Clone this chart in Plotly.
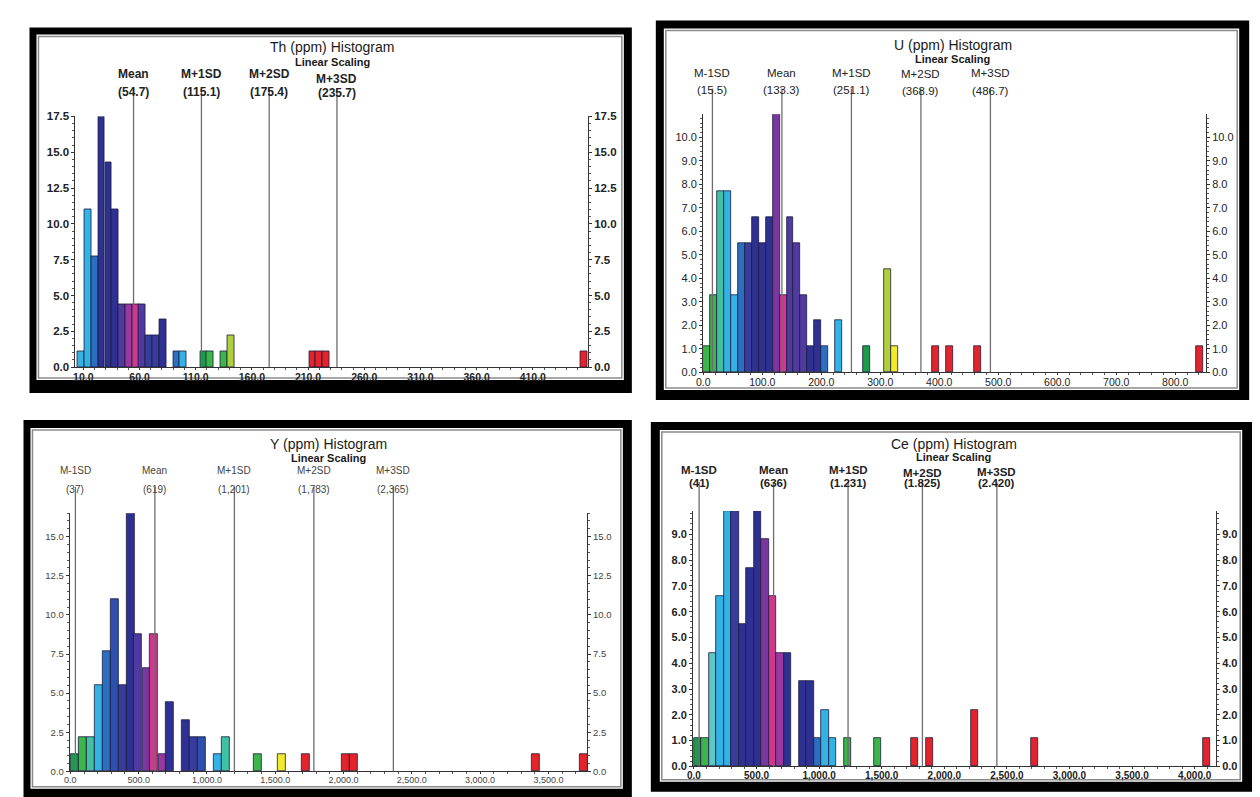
import plotly.graph_objects as go

W, H = 1260, 797

# ---------------- data ----------------
th_bins = [8.1, 14.1, 20.2, 26.2, 32.3, 38.3, 44.4, 50.4, 56.5, 62.5, 68.6, 74.6, 80.7,
           92.8, 98.8, 117.0, 123.0, 135.1, 141.2, 213.8, 219.9, 225.9, 455.8]
th_pct = [1.1, 11.0, 7.7, 17.5, 14.3, 11.0, 4.4, 4.4, 4.4, 4.4, 2.2, 2.2, 3.3,
          1.1, 1.1, 1.1, 1.1, 1.1, 2.2, 1.1, 1.1, 1.1, 1.1]

u_bins = [5.9, 17.7, 29.4, 41.2, 53.0, 64.7, 76.5, 88.3, 100.0, 111.8, 123.6, 135.4, 147.1,
          158.9, 170.7, 182.4, 194.2, 206.0, 229.5, 276.6, 311.9, 323.7, 394.3, 417.9, 465.0, 841.7]
u_pct = [1.1, 3.3, 7.7, 7.7, 3.3, 5.5, 5.5, 6.6, 5.5, 6.6, 11.0, 3.3, 6.6,
         5.5, 3.3, 1.1, 2.2, 1.1, 2.2, 1.1, 4.4, 1.1, 1.1, 1.1, 1.1, 1.1]

y_bins = [29, 88, 146, 205, 263, 322, 380, 439, 497, 556, 614, 673, 731,
          848, 907, 965, 1082, 1141, 1375, 1550, 1726, 2018, 2077, 3405, 3760]
y_pct = [1.1, 2.2, 2.2, 5.5, 7.7, 11.0, 5.5, 16.5, 8.8, 6.6, 8.8, 1.1, 4.4,
         3.3, 2.2, 2.2, 1.1, 2.2, 1.1, 1.1, 1.1, 1.1, 1.1, 1.1, 1.1]

ce_bins = [30, 90, 150, 209, 269, 329, 389, 449, 508, 568, 628, 688, 747,
           867, 927, 987, 1046, 1106, 1226, 1465, 1764, 1883, 2243, 2721, 4096]
ce_pct = [1.1, 1.1, 4.4, 6.6, 9.9, 9.9, 5.5, 7.7, 9.9, 8.8, 6.6, 4.4, 4.4,
          3.3, 3.3, 1.1, 2.2, 1.1, 1.1, 1.1, 1.1, 1.1, 2.2, 1.1, 1.1]

th_stat_names = ["Mean", "M+1SD", "M+2SD", "M+3SD"]
th_stat_vals = [54.7, 115.1, 175.4, 235.7]
th_stat_text = ["(54.7)", "(115.1)", "(175.4)", "(235.7)"]

u_stat_names = ["M-1SD", "Mean", "M+1SD", "M+2SD", "M+3SD"]
u_stat_vals = [15.5, 133.3, 251.1, 368.9, 486.7]
u_stat_text = ["(15.5)", "(133.3)", "(251.1)", "(368.9)", "(486.7)"]

y_stat_names = ["M-1SD", "Mean", "M+1SD", "M+2SD", "M+3SD"]
y_stat_vals = [37, 619, 1201, 1783, 2365]
y_stat_text = ["(37)", "(619)", "(1,201)", "(1,783)", "(2,365)"]

ce_stat_names = ["M-1SD", "Mean", "M+1SD", "M+2SD", "M+3SD"]
ce_stat_vals = [41, 636, 1231, 1825, 2420]
ce_stat_text = ["(41)", "(636)", "(1.231)", "(1.825)", "(2.420)"]

# ---------------- colours ----------------
G1 = "#1a9c4a"; G2 = "#3cb54a"; TEAL = "#3fc1a2"; LTEAL = "#5cc7c4"
LB = "#33b2e6"; MB = "#2a6fc2"; MB2 = "#2d4fae"; DB = "#2e3192"; DB2 = "#383d9d"
PB = "#50399f"; PU = "#7a379f"; PU2 = "#9a389f"; MG = "#d8338e"
YG = "#afd03a"; YE = "#f3ea2c"; RD = "#e5232a"

th_colors = [LB, LB, MB, DB, DB, DB, PB, PU2, MG, PB, DB2, DB2, DB,
             MB, LB, G1, G2, G2, YG, RD, RD, RD, RD]
u_colors = [G2, G2, TEAL, LB, LB, MB, DB2, DB, DB, DB, PU, MG, PB,
            PB, PB, DB, DB, MB, LB, G1, YG, YE, RD, RD, RD, RD]
y_colors = [G1, G2, TEAL, LB, MB, MB2, DB2, DB, PB, PU, MG, PU2, DB,
            DB, DB2, MB2, LB, TEAL, G2, YE, RD, RD, RD, RD, RD]
ce_colors = [G1, G2, LTEAL, LB, LB, DB2, DB, DB, DB, PU, MG, PU2, DB,
             DB, DB, MB, LB, LB, G2, G2, RD, RD, RD, RD, RD]

FONT = "Liberation Sans, Arial, sans-serif"

# page placement compensation (screen = OFF + SCALE * design)
OFFX, SCX = 14.5, 0.9955
OFFY, SCY = 13.5, 0.986


def PX(p):
    return ((p - OFFX) / SCX) / W


def PY(p):
    return 1 - ((p - OFFY) / SCY) / H


panels = [
    dict(bins=th_bins, pct=th_pct, colors=th_colors, bw=6.05,
         names=th_stat_names, vals=th_stat_vals, texts=th_stat_text,
         xdom=(75, 588), ydom=(116, 367), xr=(2.98, 459.0), yr=(0, 17.5),
         xt0=10, xdt=50, xfmt=".1f", xminor=10, ydt=2.5, yminor=0.5,
         name_y=[74, 74, 74, 79], val_y=[92, 92, 92, 93], line_top=88,
         title="Th (ppm) Histogram", tx=332, ty=47, lsy=62,
         lab=dict(size=12, weight=700), ytick=dict(size=11.5, weight=700),
         xtick=dict(size=10.5, weight=700), tcol="#222"),
    dict(bins=u_bins, pct=u_pct, colors=u_colors, bw=11.77,
         names=u_stat_names, vals=u_stat_vals, texts=u_stat_text,
         xdom=(703.3, 1206.7), ydom=(113.8, 372.3), xr=(-0.34, 852.0), yr=(0, 10.98),
         xt0=0, xdt=100, xfmt=".1f", xminor=20, ydt=1, yminor=0.2,
         name_y=[73, 73, 73, 74, 73], val_y=[90, 90, 90, 91, 91], line_top=88,
         title="U (ppm) Histogram", tx=953, ty=45, lsy=59,
         lab=dict(size=11.5, weight=400), ytick=dict(size=11, weight=400),
         xtick=dict(size=10.5, weight=400), tcol="#222"),
    dict(bins=y_bins, pct=y_pct, colors=y_colors, bw=58.5,
         names=y_stat_names, vals=y_stat_vals, texts=y_stat_text,
         xdom=(69.3, 587.3), ydom=(513.2, 771.7), xr=(-4.4, 3784.0), yr=(0, 16.5),
         xt0=0, xdt=500, xfmt=",.1f", xminor=100, ydt=2.5, yminor=0.5,
         name_y=[470] * 5, val_y=[490] * 5, line_top=487,
         title="Y (ppm) Histogram", tx=328, ty=444, lsy=458,
         lab=dict(size=10, weight=400), ytick=dict(size=9.5, weight=400),
         xtick=dict(size=9, weight=400), tcol="#444"),
    dict(bins=ce_bins, pct=ce_pct, colors=ce_colors, bw=59.8,
         names=ce_stat_names, vals=ce_stat_vals, texts=ce_stat_text,
         xdom=(693.3, 1216.7), ydom=(511.1, 766.7), xr=(-7.2, 4170.0), yr=(0, 9.9),
         xt0=0, xdt=500, xfmt=",.1f", xminor=100, ydt=1, yminor=0.2,
         name_y=[470, 470, 470, 473, 472], val_y=[483] * 5, line_top=482,
         title="Ce (ppm) Histogram", tx=954, ty=444, lsy=457,
         lab=dict(size=11.5, weight=700), ytick=dict(size=11, weight=700),
         xtick=dict(size=10, weight=700), tcol="#222"),
]

# frames: outer black, inner white, gray line (target pixel boxes)
frames = [
    ((29, 27, 632, 393), (36, 34, 624, 380), (38, 36, 622, 378)),
    ((656, 20, 1250, 400), (664, 28, 1240, 390), (666, 30, 1238, 388)),
    ((23, 420, 632, 805), (30, 428, 623, 789), (32, 430, 621, 787)),
    ((651, 422, 1254, 792), (660, 430, 1243, 782), (662, 432, 1241, 780)),
]

fig = go.Figure()
shapes = []
annotations = []

for (o, i, g) in frames:
    shapes.append(dict(type="rect", xref="paper", yref="paper", x0=PX(o[0]), x1=PX(o[2]),
                       y0=PY(o[3]), y1=PY(o[1]), fillcolor="#000", line=dict(width=0), layer="below"))
    shapes.append(dict(type="rect", xref="paper", yref="paper", x0=PX(i[0]), x1=PX(i[2]),
                       y0=PY(i[3]), y1=PY(i[1]), fillcolor="#fff", line=dict(width=0), layer="below"))
    shapes.append(dict(type="rect", xref="paper", yref="paper", x0=PX(g[0]), x1=PX(g[2]),
                       y0=PY(g[3]), y1=PY(g[1]), line=dict(color="#8a8a8a", width=1.5), layer="below"))

layout_axes = {}
for n, p in enumerate(panels, start=1):
    xa = "x" if n == 1 else f"x{n}"
    ya = "y" if n == 1 else f"y{n}"
    yr_name = f"y{n + 4}"
    fig.add_trace(go.Bar(x=p["bins"], y=p["pct"], width=p["bw"], xaxis=xa, yaxis=ya,
                         marker=dict(color=p["colors"], line=dict(color="#1c1c3c", width=0.8)),
                         showlegend=False, hoverinfo="x+y"))
    fig.add_trace(go.Scatter(x=[p["xr"][0]], y=[None], xaxis=xa, yaxis=yr_name,
                             mode="markers", showlegend=False, hoverinfo="skip"))
    tickfont_y = dict(family=FONT, color=p["tcol"], **p["ytick"])
    tickfont_x = dict(family=FONT, color=p["tcol"], **p["xtick"])
    xd = [PX(p["xdom"][0]), PX(p["xdom"][1])]
    yd = [PY(p["ydom"][1]), PY(p["ydom"][0])]
    layout_axes["xaxis" if n == 1 else f"xaxis{n}"] = dict(
        domain=xd, range=list(p["xr"]), anchor=ya, showline=True, linecolor="#333", linewidth=1,
        ticks="outside", ticklen=2, tickcolor="#333", tick0=p["xt0"], dtick=p["xdt"],
        tickformat=p["xfmt"], tickfont=tickfont_x, showgrid=False, zeroline=False,
        ticklabelstandoff=-2,
        minor=dict(ticks="outside", ticklen=2, dtick=p["xminor"], tickcolor="#555", showgrid=False))
    yax = dict(domain=yd, range=list(p["yr"]), anchor=xa, showline=True, linecolor="#333",
               linewidth=1, ticks="outside", ticklen=3, tickcolor="#333", tick0=0, dtick=p["ydt"],
               tickformat=".1f", tickfont=tickfont_y, showgrid=False, zeroline=False,
               minor=dict(ticks="outside", ticklen=2, dtick=p["yminor"], tickcolor="#555",
                          showgrid=False))
    layout_axes["yaxis" if n == 1 else f"yaxis{n}"] = yax
    yr_ax = dict(yax)
    yr_ax.update(overlaying=ya, side="right", anchor=xa)
    yr_ax.pop("domain")
    layout_axes[f"yaxis{n + 4}"] = yr_ax

    labfont = dict(family=FONT, color=p["tcol"], **p["lab"])
    for nm, v, t, ny, vy in zip(p["names"], p["vals"], p["texts"], p["name_y"], p["val_y"]):
        shapes.append(dict(type="line", xref=xa, yref="paper", x0=v, x1=v,
                           y0=PY(p["line_top"]), y1=PY(p["ydom"][1]),
                           line=dict(color="#6e6e6e", width=1.3), layer="above"))
        annotations.append(dict(x=v, xref=xa, y=PY(ny), yref="paper", text=nm, showarrow=False,
                                xanchor="center", yanchor="middle", font=labfont))
        annotations.append(dict(x=v, xref=xa, y=PY(vy), yref="paper", text=t, showarrow=False,
                                xanchor="center", yanchor="middle", font=labfont))
    annotations.append(dict(x=PX(p["tx"]), xref="paper", y=PY(p["ty"]), yref="paper",
                            text=p["title"], showarrow=False, xanchor="center", yanchor="middle",
                            font=dict(family=FONT, size=14, color="#1a1a1a")))
    annotations.append(dict(x=PX(p["tx"]), xref="paper", y=PY(p["lsy"]), yref="paper",
                            text="Linear Scaling", showarrow=False, xanchor="center",
                            yanchor="middle",
                            font=dict(family=FONT, size=11, color="#1a1a1a", weight=700)))

fig.update_layout(width=W, height=H, margin=dict(l=0, r=0, t=0, b=0),
                  paper_bgcolor="#ffffff", plot_bgcolor="rgba(0,0,0,0)",
                  shapes=shapes, annotations=annotations, bargap=0, showlegend=False,
                  font=dict(family=FONT), **layout_axes)

fig.write_html("out.html")
